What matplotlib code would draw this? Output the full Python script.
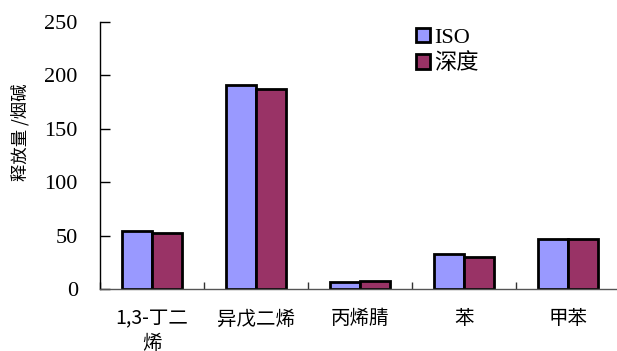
import matplotlib.pyplot as plt
import numpy as np
from matplotlib.patches import Patch

CJK = ["Noto Sans CJK SC", "DejaVu Sans"]
SERIF = ["Liberation Serif", "Noto Sans CJK SC"]

categories = ["1,3-丁二\n烯", "异戊二烯", "丙烯腈", "苯", "甲苯"]
iso_vals = [54, 191, 7, 33, 47]
deep_vals = [52, 187, 7.5, 30, 46.5]
series_names = ["ISO", "深度"]
colors = ["#9999FF", "#993366"]
y_ticks = [0, 50, 100, 150, 200, 250]

fig = plt.figure(figsize=(6.17, 3.51), dpi=100)
ax = fig.add_axes([100 / 617, 1 - 289 / 351, 520 / 617, 267 / 351])

xs = np.arange(len(categories))
w = 0.29
for vals, col, off in [(iso_vals, colors[0], -w / 2), (deep_vals, colors[1], w / 2)]:
    ax.bar(xs + off, vals, width=w, color=col, edgecolor="black", linewidth=2.0)

ax.set_xlim(-0.5, len(categories) - 0.5)
ax.set_ylim(0, 250)
ax.set_yticks(y_ticks)
ax.set_yticklabels([str(t) for t in y_ticks], family=SERIF, fontsize=16)
ax.tick_params(axis="y", direction="in", length=7, width=1, pad=16)

ax.set_xticks(xs)
ax.set_xticklabels(categories, family=CJK, fontsize=14, linespacing=1.2)
ax.tick_params(axis="x", length=0, pad=14)
# tick marks sit on the category boundaries
ax.set_xticks(np.arange(-0.5, len(categories), 1.0), minor=True)
ax.tick_params(axis="x", which="minor", direction="in", length=5, width=1, color="#333333")

for s in ["top", "right"]:
    ax.spines[s].set_visible(False)
ax.spines["left"].set_linewidth(1)
ax.spines["bottom"].set_linewidth(1)
ax.spines["bottom"].set_color("#555555")

fig.text(20 / 617, 1 - 132 / 351, "释放量 /烟碱", rotation=90, ha="center", va="center",
         family=CJK, fontsize=12.5)

handles = [Patch(facecolor=c, edgecolor="black", linewidth=2.0) for c in colors]
ax.legend(handles, series_names, loc="upper left", bbox_to_anchor=(416 / 617, 1 - 28 / 351),
          bbox_transform=fig.transFigure, frameon=False, prop={"family": SERIF, "size": 16},
          handlelength=0.62, handleheight=0.62, handletextpad=0.2, labelspacing=0.25,
          borderaxespad=0, borderpad=0)

fig.savefig("out.png", dpi=100)
